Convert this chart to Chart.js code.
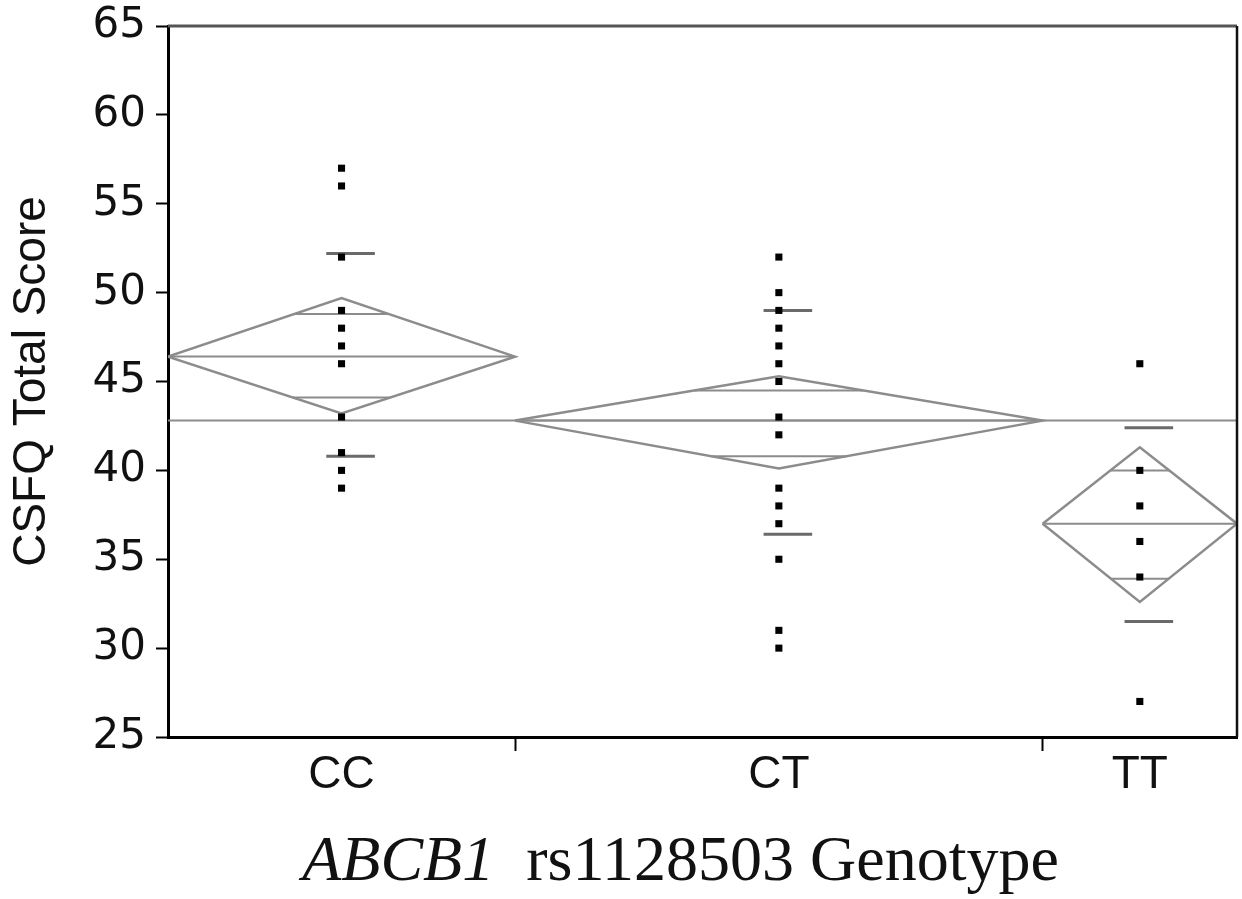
<!DOCTYPE html>
<html>
<head>
<meta charset="utf-8">
<script src="https://cdn.jsdelivr.net/npm/chart.js@4.4.0/dist/chart.umd.min.js"></script>
<style>
  html, body { margin: 0; padding: 0; background: #fff; }
</style>
</head>
<body>
<canvas id="csfqChart" width="1242" height="899"></canvas>
<script>
// Genotypes and group sizes (group width on the x axis is proportional to n)
const genotypes = ['CC', 'CT', 'TT'];
const groupN = [25, 38, 14];

// Individual scores
const ccScores = [57, 56, 52, 49, 48, 47, 46, 43, 41, 40, 39];
const ctScores = [52, 50, 49, 48, 47, 46, 45, 43, 42, 39, 38, 37, 35, 31, 30];
const ttScores = [46, 40, 38, 36, 34, 27];

// Group summaries (means diamonds)
const groupMeans = [46.4, 42.8, 37.0];
const ciLow = [43.2, 40.1, 32.6];
const ciHigh = [49.7, 45.3, 41.3];
const overlapLow = [44.1, 40.8, 33.9];
const overlapHigh = [48.8, 44.5, 40.0];
const sdLow = [40.8, 36.4, 31.5];
const sdHigh = [52.2, 49.0, 42.4];
const grandMean = 42.8;

const yTicks = [25, 30, 35, 40, 45, 50, 55, 60, 65];
const yTitle = 'CSFQ Total Score';
const geneName = 'ABCB1';
const xTitleRest = '  rs1128503 Genotype';

const scoresByGroup = [ccScores, ctScores, ttScores];
const sans = '"Liberation Sans", Arial, sans-serif';
const gray = '#8c8c8c';

// group starts / centers / boundaries on the x scale
const starts = [];
let acc = 0;
groupN.forEach(n => { starts.push(acc); acc += n; });
const total = acc;
const centers = starts.map((s, i) => s + groupN[i] / 2);
const boundaries = starts.slice(1);

function seg(points, color, width) {
    return {
        data: points,
        showLine: true,
        borderColor: color,
        borderWidth: width,
        pointRadius: 0,
        tension: 0,
        order: 1
    };
}

const datasets = [];

// grand mean line
datasets.push(seg([{ x: 0, y: grandMean }, { x: total, y: grandMean }], gray, 2));

genotypes.forEach((g, i) => {
    const x0 = starts[i];
    const x1 = starts[i] + groupN[i];
    const xc = centers[i];
    const half = groupN[i] / 2;
    const m = groupMeans[i];

    // diamond
    datasets.push(seg([
        { x: x0, y: m }, { x: xc, y: ciHigh[i] }, { x: x1, y: m },
        { x: xc, y: ciLow[i] }, { x: x0, y: m }
    ], gray, 2.5));

    // mean line
    datasets.push(seg([{ x: x0, y: m }, { x: x1, y: m }], gray, 2));

    // overlap marks (span the diamond at that height)
    const wUp = half * (1 - (overlapHigh[i] - m) / (ciHigh[i] - m));
    const wDn = half * (1 - (m - overlapLow[i]) / (m - ciLow[i]));
    datasets.push(seg([{ x: xc - wUp, y: overlapHigh[i] }, { x: xc + wUp, y: overlapHigh[i] }], gray, 2));
    datasets.push(seg([{ x: xc - wDn, y: overlapLow[i] }, { x: xc + wDn, y: overlapLow[i] }], gray, 2));

    // std dev lines
    datasets.push(seg([{ x: xc - 1.1, y: sdHigh[i] }, { x: xc + 2.4, y: sdHigh[i] }], '#6a6a6a', 3));
    datasets.push(seg([{ x: xc - 1.1, y: sdLow[i] }, { x: xc + 2.4, y: sdLow[i] }], '#6a6a6a', 3));

    // points
    datasets.push({
        label: g,
        data: scoresByGroup[i].map(v => ({ x: xc, y: v })),
        showLine: false,
        pointStyle: 'rect',
        pointRadius: 5,
        pointBorderWidth: 0,
        pointBackgroundColor: '#000',
        order: 0
    });
});

// top and right frame
const framePlugin = {
    id: 'frame',
    afterDraw(chart) {
        const { ctx, chartArea: a } = chart;
        ctx.save();
        ctx.strokeStyle = '#555';
        ctx.lineWidth = 3;
        ctx.beginPath();
        ctx.moveTo(a.left, a.top);
        ctx.lineTo(a.right, a.top);
        ctx.stroke();
        ctx.strokeStyle = '#111';
        ctx.lineWidth = 2.5;
        ctx.beginPath();
        ctx.moveTo(a.right, a.top);
        ctx.lineTo(a.right, a.bottom);
        ctx.stroke();
        ctx.restore();
    }
};

// x title with italic gene name
const xTitlePlugin = {
    id: 'xTitle',
    afterDraw(chart) {
        const { ctx, chartArea: a } = chart;
        const size = 64;
        const italic = 'italic ' + size + 'px "Liberation Serif", "Times New Roman", serif';
        const roman = size + 'px "Liberation Serif", "Times New Roman", serif';
        ctx.save();
        ctx.fillStyle = '#111';
        ctx.textAlign = 'left';
        ctx.textBaseline = 'alphabetic';
        ctx.font = italic;
        const w1 = ctx.measureText(geneName).width;
        ctx.font = roman;
        const w2 = ctx.measureText(xTitleRest).width;
        const cx = (a.left + a.right) / 2 - 22;
        const y = a.bottom + 143;
        const x = cx - (w1 + w2) / 2;
        ctx.font = italic;
        ctx.fillText(geneName, x, y);
        ctx.font = roman;
        ctx.fillText(xTitleRest, x + w1, y);
        ctx.restore();
    }
};

new Chart(document.getElementById('csfqChart'), {
    type: 'scatter',
    data: { datasets: datasets },
    options: {
        responsive: false,
        animation: false,
        layout: { padding: { top: 26, right: 5, bottom: 0, left: 0 } },
        plugins: {
            legend: { display: false },
            tooltip: { enabled: false }
        },
        scales: {
            x: {
                type: 'linear',
                min: 0,
                max: total,
                afterBuildTicks: s => {
                    s.ticks = centers.concat(boundaries).sort((a, b) => a - b).map(v => ({ value: v }));
                },
                afterFit: s => { s.height = 162; s.paddingLeft = 0; s.paddingRight = 0; },
                border: { color: '#000', width: 3 },
                grid: {
                    drawOnChartArea: false,
                    tickLength: 14,
                    tickWidth: 2,
                    tickColor: c => (c.tick && boundaries.includes(c.tick.value)) ? '#000' : 'rgba(0,0,0,0)'
                },
                ticks: {
                    autoSkip: false,
                    maxRotation: 0,
                    padding: 1,
                    color: '#111',
                    font: { family: sans, size: 46, lineHeight: 1 },
                    callback: v => {
                        const i = centers.indexOf(v);
                        return i >= 0 ? genotypes[i] : '';
                    }
                }
            },
            y: {
                min: 25,
                max: 65,
                afterBuildTicks: s => { s.ticks = yTicks.map(v => ({ value: v })); },
                afterFit: s => { s.width = 168; s.paddingTop = 0; s.paddingBottom = 0; },
                border: { color: '#000', width: 3 },
                grid: { drawOnChartArea: false, tickLength: 12, tickWidth: 2, tickColor: '#000' },
                ticks: { padding: 10, color: '#111', font: { family: '"DejaVu Sans", sans-serif', size: 42 } },
                title: {
                    display: true,
                    text: yTitle,
                    color: '#111',
                    font: { family: sans, size: 46 },
                    padding: { top: 5, bottom: 0 }
                }
            }
        }
    },
    plugins: [framePlugin, xTitlePlugin]
});
</script>
</body>
</html>
